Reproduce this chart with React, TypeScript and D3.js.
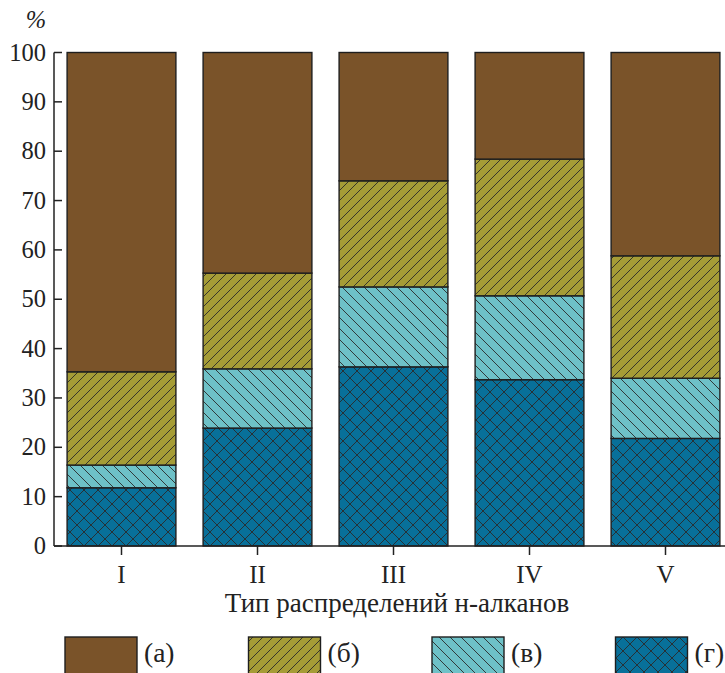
import * as d3 from 'd3';
import React, { useEffect, useRef } from 'react';

// типы распределения
const categories = ['I', 'II', 'III', 'IV', 'V'];
// доли по сериям, % (снизу вверх: г, в, б, а)
const seriesG = [11.8, 23.9, 36.3, 33.7, 21.8];
const seriesV = [4.6, 12.0, 16.2, 17.0, 12.2];
const seriesB = [18.9, 19.4, 21.5, 27.7, 24.8];
const seriesA = [64.7, 44.7, 26.0, 21.6, 41.2];
const seriesLabels = ['(а)', '(б)', '(в)', '(г)'];
const yTicks = [0, 10, 20, 30, 40, 50, 60, 70, 80, 90, 100];

const W = 725;
const H = 673;
const font = 'Liberation Serif, Times New Roman, DejaVu Serif, serif';

export default function App() {
  const ref = useRef<SVGSVGElement>(null);

  useEffect(() => {
    const svg = d3.select(ref.current);
    svg.selectAll('*').remove();

    const defs = svg.append('defs');
    const hatch = '#2a2a2a';

    // (а) - плоская заливка, (б) "/", (в) "\", (г) сетка
    const fills = ['#7a5329', '#a59c36', '#6ec1c7', '#08709a'];

    const pb = defs.append('pattern').attr('id', 'pb').attr('patternUnits', 'userSpaceOnUse')
      .attr('width', 10).attr('height', 10);
    pb.append('rect').attr('width', 10).attr('height', 10).attr('fill', fills[1]);
    pb.append('path').attr('d', 'M0,10L10,0M-2,2L2,-2M8,12L12,8')
      .attr('stroke', hatch).attr('stroke-width', 0.9);

    const pv = defs.append('pattern').attr('id', 'pv').attr('patternUnits', 'userSpaceOnUse')
      .attr('width', 11).attr('height', 11);
    pv.append('rect').attr('width', 11).attr('height', 11).attr('fill', fills[2]);
    pv.append('path').attr('d', 'M0,0L11,11M-2,9L2,13M9,-2L13,2')
      .attr('stroke', hatch).attr('stroke-width', 0.9);

    const pg = defs.append('pattern').attr('id', 'pg').attr('patternUnits', 'userSpaceOnUse')
      .attr('width', 14).attr('height', 14);
    pg.append('rect').attr('width', 14).attr('height', 14).attr('fill', fills[3]);
    pg.append('path').attr('d', 'M0,0L14,14M-2,12L2,16M12,-2L16,2M0,14L14,0M-2,2L2,-2M12,16L16,12')
      .attr('stroke', hatch).attr('stroke-width', 0.9);

    const paints = [fills[0], 'url(#pb)', 'url(#pv)', 'url(#pg)'];

    const x = d3.scaleBand<string>()
      .domain(categories)
      .range([53.5, 733.5])
      .paddingInner(0.2)
      .paddingOuter(0.1);

    const y = d3.scaleLinear().domain([0, 100]).range([546, 52.5]);

    // стек снизу вверх
    const rows = categories.map((c, i) => ({
      cat: c, g: seriesG[i], v: seriesV[i], b: seriesB[i], a: seriesA[i]
    }));
    const keys = ['g', 'v', 'b', 'a'];
    const stacked = d3.stack<any>().keys(keys)(rows);
    const paintByKey: Record<string, string> = { a: paints[0], b: paints[1], v: paints[2], g: paints[3] };

    stacked.forEach((layer) => {
      svg.append('g')
        .selectAll('rect')
        .data(layer)
        .enter()
        .append('rect')
        .attr('x', (d: any) => x(d.data.cat)!)
        .attr('y', (d) => y(Math.min(d[1], 100)))
        .attr('width', x.bandwidth())
        .attr('height', (d) => y(d[0]) - y(Math.min(d[1], 100)))
        .attr('fill', paintByKey[layer.key])
        .attr('stroke', '#1e1e1e')
        .attr('stroke-width', 1.4);
    });

    const txt = (sel: any, size = 24.5) =>
      sel.style('font-family', font).style('font-size', size + 'px').attr('fill', '#222');

    // ось Y
    const yAxis = svg.append('g');
    yAxis.append('line').attr('x1', 54).attr('x2', 54).attr('y1', y(100)).attr('y2', y(0))
      .attr('stroke', '#222').attr('stroke-width', 1.5);
    yTicks.forEach((t) => {
      yAxis.append('line').attr('x1', 54).attr('x2', 62).attr('y1', y(t)).attr('y2', y(t))
        .attr('stroke', '#222').attr('stroke-width', 1.5);
      yAxis.append('text').attr('x', 46).attr('y', y(t) + 8)
        .attr('text-anchor', 'end').call(txt).text(t);
    });
    svg.append('text').attr('x', 36).attr('y', 28).attr('text-anchor', 'middle')
      .call(txt).style('font-style', 'italic').text('%');

    // ось X
    const xAxis = svg.append('g');
    xAxis.append('line').attr('x1', 54).attr('x2', W).attr('y1', y(0)).attr('y2', y(0))
      .attr('stroke', '#222').attr('stroke-width', 1.5);
    categories.forEach((c) => {
      const cx = x(c)! + x.bandwidth() / 2;
      xAxis.append('line').attr('x1', cx).attr('x2', cx).attr('y1', y(0)).attr('y2', y(0) + 9)
        .attr('stroke', '#222').attr('stroke-width', 1.5);
      xAxis.append('text').attr('x', cx).attr('y', 583).attr('text-anchor', 'middle')
        .call(txt, 25).text(c);
    });
    svg.append('text').attr('x', 397).attr('y', 612).attr('text-anchor', 'middle')
      .call(txt, 27).text('Тип распределений н-алканов');

    // легенда
    const legendX = [65, 248.5, 432, 615.5];
    seriesLabels.forEach((lab, i) => {
      svg.append('rect').attr('x', legendX[i]).attr('y', 637).attr('width', 72).attr('height', 40)
        .attr('fill', paints[i]).attr('stroke', '#1e1e1e').attr('stroke-width', 1.4);
      svg.append('text').attr('x', legendX[i] + 79).attr('y', 662)
        .call(txt, 27.5).text(lab);
    });
  }, []);

  return (
    <svg ref={ref} width={W} height={H}
      style={{ position: 'absolute', left: 0, top: 0, background: '#fff' }} />
  );
}
